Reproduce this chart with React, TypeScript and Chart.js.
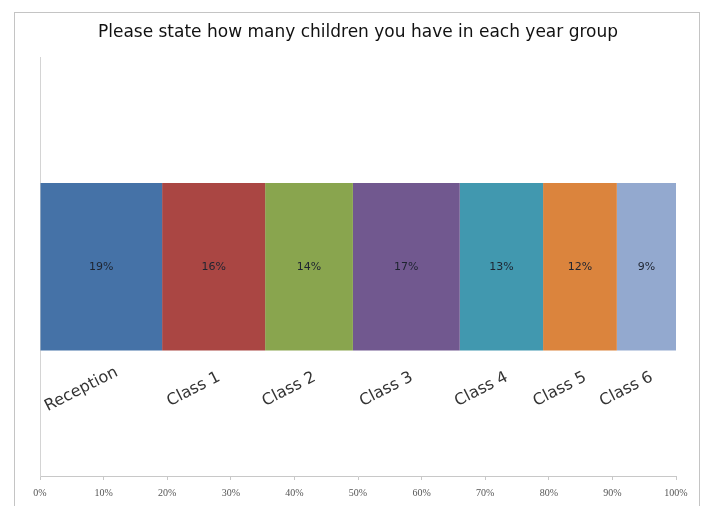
import React, { useEffect, useRef } from "react";
import { Chart, registerables } from "chart.js";

Chart.register(...registerables);

const TITLE = "Please state how many children you have in each year group";
const categories = ["Reception", "Class 1", "Class 2", "Class 3", "Class 4", "Class 5", "Class 6"];
const shares = [19.2, 16.2, 13.8, 16.8, 13.1, 11.6, 9.3];
const shareLabels = ["19%", "16%", "14%", "17%", "13%", "12%", "9%"];
const colors = ["#4572A7", "#AA4643", "#89A54E", "#71588F", "#4198AF", "#DB843D", "#93A9CF"];
const xTickValues = [0, 10, 20, 30, 40, 50, 60, 70, 80, 90, 100];

const segmentLabels = {
  id: "segmentLabels",
  afterDatasetsDraw(chart: any) {
    const ctx = chart.ctx;
    chart.data.datasets.forEach((_ds: any, i: number) => {
      const el = chart.getDatasetMeta(i).data[0];
      if (!el) return;
      const p = el.getProps(["x", "y", "base", "height"], true);
      const cx = (p.x + p.base) / 2;
      ctx.save();
      ctx.font = "11px 'DejaVu Sans'";
      ctx.fillStyle = "#1e2430";
      ctx.textAlign = "center";
      ctx.textBaseline = "middle";
      ctx.fillText(shareLabels[i], cx, p.y);
      ctx.translate(cx - 20, p.y + p.height / 2 + 39);
      ctx.rotate((-27 * Math.PI) / 180);
      ctx.font = "16px 'DejaVu Sans'";
      ctx.fillStyle = "#333333";
      ctx.fillText(categories[i], 0, 0);
      ctx.restore();
    });
  },
};

export default function App() {
  const ref = useRef<HTMLCanvasElement | null>(null);

  useEffect(() => {
    if (!ref.current) return;
    const chart = new Chart(ref.current, {
      type: "bar",
      data: {
        labels: [""],
        datasets: categories.map((c, i) => ({
          label: c,
          data: [shares[i]],
          backgroundColor: colors[i],
          borderWidth: 0,
          barPercentage: 1,
          categoryPercentage: 0.4,
        })),
      },
      options: {
        indexAxis: "y",
        responsive: false,
        animation: false,
        layout: { padding: { left: 40, right: 28, top: 0, bottom: 0 } },
        plugins: {
          legend: { display: false },
          tooltip: { enabled: false },
          title: {
            display: true,
            text: TITLE,
            color: "#111111",
            font: { family: "'DejaVu Sans'", size: 17, weight: "normal" },
            padding: { top: 22, bottom: 15 },
          },
        },
        scales: {
          x: {
            stacked: true,
            min: 0,
            max: 100,
            afterBuildTicks: (scale: any) => {
              scale.ticks = xTickValues.map((v) => ({ value: v }));
            },
            ticks: {
              autoSkip: false,
              maxRotation: 0,
              padding: 7,
              color: "#555555",
              font: { family: "'Liberation Serif'", size: 10 },
              callback: (v: any) => v + "%",
            },
            grid: { drawOnChartArea: false, tickLength: 4, color: "#c8c8c8" },
            border: { display: true, color: "#c8c8c8" },
          },
          y: {
            stacked: true,
            ticks: { display: false },
            grid: { display: false, drawTicks: false },
            border: { display: true, color: "#d4d4d4" },
          },
        },
      },
      plugins: [segmentLabels],
    });
    return () => chart.destroy();
  }, []);

  return (
    <div style={{ position: "absolute", left: 0, top: 0, width: 704, height: 506, overflow: "hidden", background: "#ffffff" }}>
      <div
        style={{
          position: "absolute",
          left: 14,
          top: 12,
          width: 686,
          height: 520,
          border: "1px solid #c4c4c4",
          boxSizing: "border-box",
        }}
      />
      <canvas ref={ref} width={704} height={506} style={{ position: "absolute", left: 0, top: 0 }} />
    </div>
  );
}
